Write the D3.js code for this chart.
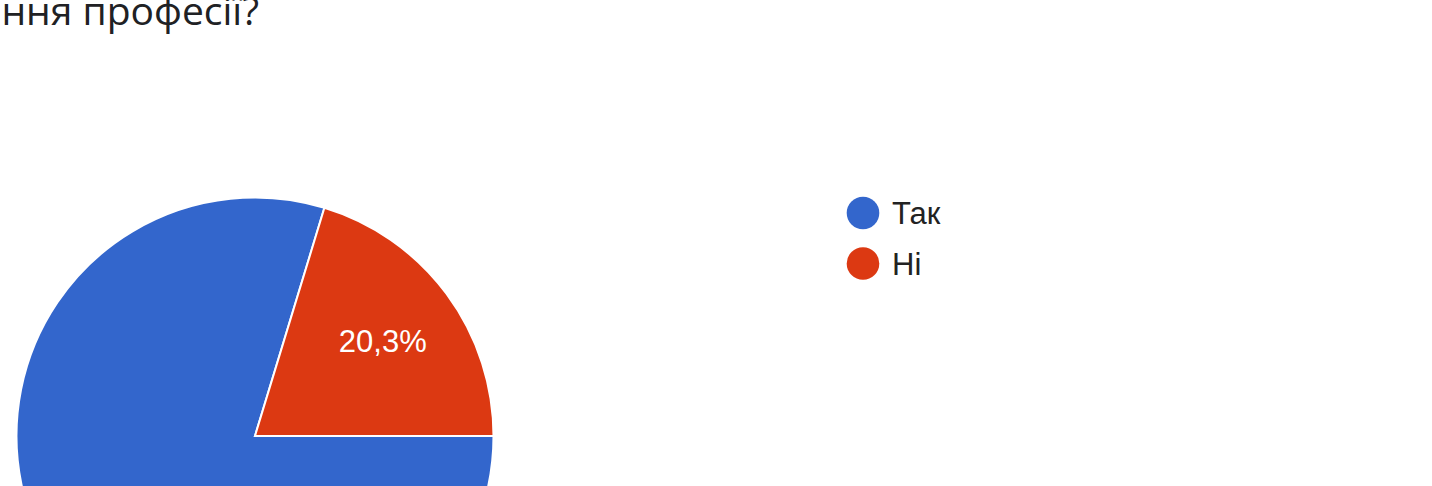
<html>
<head>
<meta charset="utf-8">
<script src="https://cdn.jsdelivr.net/npm/d3@7"></script>
<style>
  body { margin: 0; background: #fff; overflow: hidden; }
  text { font-family: "Liberation Sans", Arial, sans-serif; }
</style>
</head>
<body>
<svg width="1432" height="486"></svg>
<script>
// data
var categories = ["Так", "Ні"];
var values = [79.7, 20.3];
var labels = ["79,7%", "20,3%"];
var colors = ["#3366cc", "#dc3912"];
var title = "ння професії?";

var svg = d3.select("svg");
var cx = 255, cy = 436, r = 238.5;

svg.append("text")
  .attr("x", 259).attr("y", 24.5)
  .attr("text-anchor", "end")
  .attr("font-size", 39)
  .style("font-family", "'Open Sans', sans-serif")
  .attr("fill", "#202124")
  .text(title);

var pie = d3.pie().sort(null).value(function(d){ return d; })
  .startAngle(Math.PI / 2).endAngle(Math.PI / 2 + 2 * Math.PI);
var arc = d3.arc().innerRadius(0).outerRadius(r);
var labelArc = d3.arc().innerRadius(r * 0.667).outerRadius(r * 0.667);

var g = svg.append("g").attr("transform", "translate(" + cx + "," + cy + ")");
var slices = pie(values);

g.selectAll("path").data(slices).enter()
  .append("path")
  .attr("d", arc)
  .attr("fill", function(d, i){ return colors[i]; })
  .attr("stroke", "#fff")
  .attr("stroke-width", 2);

g.selectAll("text").data(slices).enter()
  .append("text")
  .attr("transform", function(d){ return "translate(" + labelArc.centroid(d) + ")"; })
  .attr("text-anchor", "middle")
  .attr("dy", "0.36em")
  .attr("font-size", 31)
  .attr("fill", "#fff")
  .text(function(d, i){ return labels[i]; });

var legend = svg.append("g").attr("transform", "translate(863,213)");
var items = legend.selectAll("g").data(categories).enter()
  .append("g")
  .attr("transform", function(d, i){ return "translate(0," + (i * 50.5) + ")"; });
items.append("circle").attr("r", 16.3).attr("fill", function(d, i){ return colors[i]; });
items.append("text")
  .attr("x", 29).attr("dy", "0.36em")
  .attr("font-size", 31)
  .attr("fill", "#222")
  .text(function(d){ return d; });
</script>
</body>
</html>
